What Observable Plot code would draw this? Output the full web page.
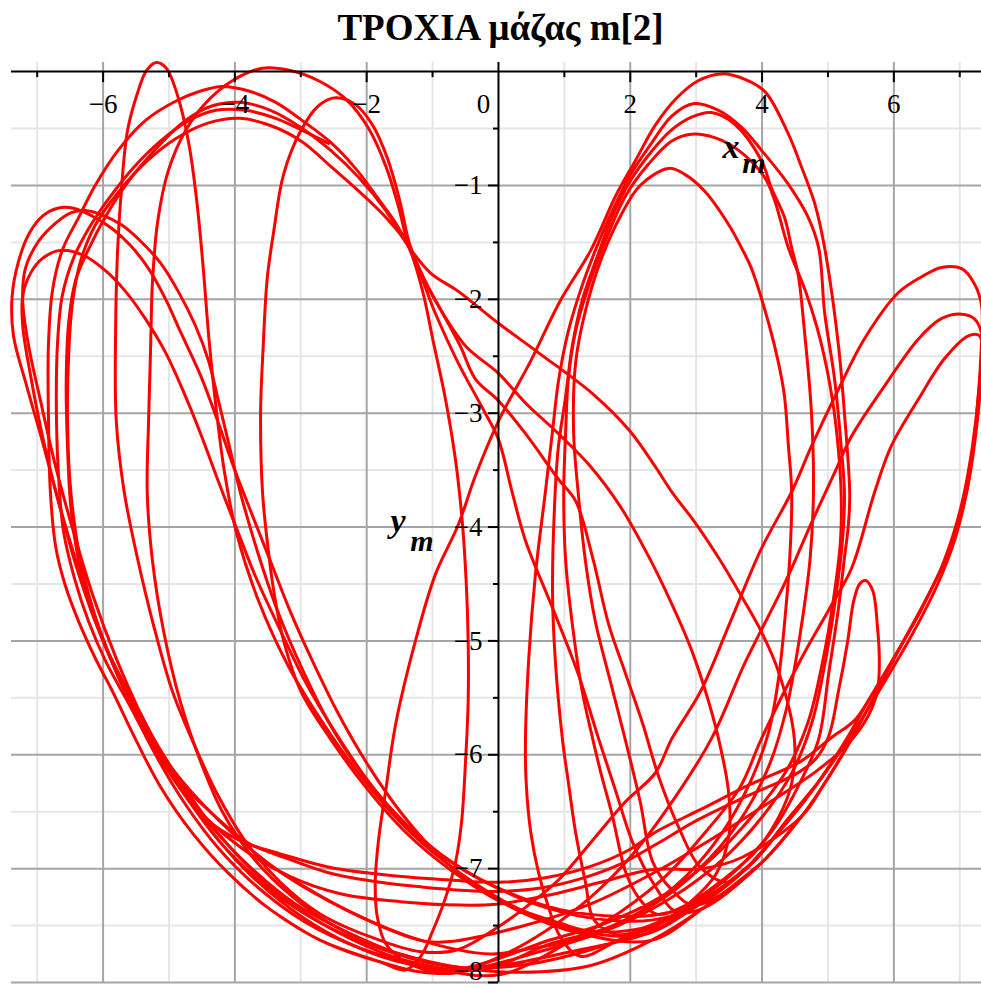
<!DOCTYPE html>
<html>
<head>
<meta charset="utf-8">
<script src="https://cdn.jsdelivr.net/npm/d3@7"></script>
<script src="https://cdn.jsdelivr.net/npm/@observablehq/plot@0.6"></script>
<style>
  html, body { margin: 0; padding: 0; background: #ffffff; }
  #title {
    position: relative; left: 10px; top: 6px; width: 981px; height: 52px; line-height: 56px;
    text-align: center; font: bold 37px "Liberation Serif", "Times New Roman", serif; color: #000;
  }
  #chart svg { display: block; }
</style>
</head>
<body>
<div id="title">ΤΡΟΧΙΑ μάζας m[2]</div>
<div id="chart"></div>
<script>
// Grid and tick positions
const gridXMajor = [-6, -4, -2, 2, 4, 6];
const gridXMinor = [-7, -5, -3, -1, 1, 3, 5, 7];
const gridYMajor = [-1, -2, -3, -4, -5, -6, -7, -8];
const gridYMinor = [-0.5, -1.5, -2.5, -3.5, -4.5, -5.5, -6.5, -7.5];
const xTickLabels = [-6, -4, -2, 2, 4, 6];
const yTickLabels = [-1, -2, -3, -4, -5, -6, -7];

// Trajectory of mass m[2] (x_m, y_m), split into continuous swings
const swingA = [[3.85,-6.95],[3.00,-7.33],[2.20,-7.58],[1.17,-7.54],[0.26,-7.34],[-0.58,-7.04],[-1.34,-6.68],[-2.02,-6.24],[-2.63,-5.75],[-3.19,-5.22],[-3.64,-4.65],[-3.98,-4.04],[-4.16,-3.51],[-4.28,-2.98],[-4.39,-2.37],[-4.49,-1.66],[-4.58,-1.13],[-4.70,-0.63],[-4.87,-0.21],[-5.04,0.03],[-5.19,0.08],[-5.34,0.01],[-5.49,-0.21],[-5.63,-0.52],[-5.72,-1.02],[-5.78,-1.57],[-5.81,-2.28],[-5.80,-3.07],[-5.68,-3.69],[-5.48,-4.27],[-5.24,-4.85],[-4.95,-5.44],[-4.64,-5.88],[-4.29,-6.32],[-3.84,-6.76],[-3.31,-7.12],[-2.70,-7.40],[-1.94,-7.60],[-1.18,-7.73],
  [-0.61,-7.71],[0,-7.51],[0.41,-7.34],[0.91,-7.10],[1.43,-6.75],[1.93,-6.41],[2.38,-6.16],[2.63,-5.86],[3.07,-5.44],[3.52,-4.83],[3.99,-4.19],[4.45,-3.69],[4.75,-3.29],[5.16,-2.79],[5.55,-2.35],[6.07,-1.94],[6.46,-1.79],[6.72,-1.72],[7.03,-1.73],[7.22,-1.86],[7.33,-2.05],[7.32,-2.50],[7.24,-3.10],[7.10,-3.70],[6.85,-4.20],[6.50,-4.62],[6.15,-5.00],[5.78,-5.40],[5.36,-5.86],[4.95,-6.25],[4.60,-6.54],[3.99,-6.95],[3.10,-7.35],[2.32,-7.63],[1.40,-7.85],
  [0.33,-7.91],[-0.58,-7.87],[-1.49,-7.75],[-2.32,-7.55],[-3.08,-7.31],[-3.76,-6.99],[-4.37,-6.62],[-4.90,-6.22],[-5.36,-5.78],[-5.77,-5.31],[-6.12,-4.83],[-6.42,-4.32],[-6.68,-3.77],[-6.92,-3.25],[-7.16,-2.76],[-7.36,-2.32],[-7.38,-1.97],[-7.28,-1.66],[-7.12,-1.42],[-6.92,-1.27],[-6.69,-1.20],[-6.45,-1.20],[-6.16,-1.27],[-5.86,-1.38],[-5.58,-1.53],[-5.31,-1.73],[-5.05,-2.00],[-4.83,-2.28],[-4.52,-2.67],[-4.26,-3.07],[-4.02,-3.47],[-3.76,-3.86],[-3.46,-4.30],[-3.16,-4.74],[-2.82,-5.18],[-2.43,-5.64],[-1.97,-6.10],[-1.49,-6.50],[-0.93,-6.87],[-0.30,-7.17],[0.41,-7.40],[1.24,-7.57],[2.32,-7.63],[3.10,-7.35],[3.99,-6.95]];

const swingB = [[4.25,-6.68],[3.70,-7.03],[3.00,-7.30],[2.45,-7.40],[1.85,-7.42],[0.94,-7.36],[0.11,-7.20],[-0.65,-6.97],[-1.34,-6.66],[-1.94,-6.26],[-2.47,-5.81],[-2.93,-5.36],[-3.34,-4.87],[-3.69,-4.43],[-3.99,-3.99],[-4.25,-3.60],[-4.52,-3.18],[-4.78,-2.81],[-5.05,-2.47],[-5.36,-2.17],[-5.66,-1.93],[-5.96,-1.75],[-6.31,-1.61],[-6.65,-1.57],[-6.92,-1.64],[-7.10,-1.77],[-7.22,-1.97],[-7.22,-2.23],[-7.10,-2.67],[-6.92,-3.20],[-6.68,-3.77],[-6.37,-4.37],[-6.04,-4.93],[-5.66,-5.46],[-5.25,-5.95],[-4.78,-6.41],[-4.25,-6.82],[-3.64,-7.17],[-2.93,-7.47],[-2.09,-7.70],[-1.18,-7.85],
  [-0.73,-7.92],[0.03,-7.77],[0.71,-7.55],[1.40,-7.25],[2.00,-6.90],[2.53,-6.50],[3.23,-5.86],[3.75,-5.18],[4.34,-4.50],[4.76,-3.95],[5.11,-3.51],[5.36,-3.20],[5.86,-2.76],[6.37,-2.35],[6.72,-2.17],[7.03,-2.13],[7.22,-2.17],[7.33,-2.30],[7.29,-2.80],[7.19,-3.30],[7.02,-3.82],[6.76,-4.30],[6.42,-4.72],[6.05,-5.10],[5.66,-5.48],[5.22,-5.92],[4.80,-6.28],[4.40,-6.56],[3.85,-6.95],[3.00,-7.33],[2.20,-7.58],[1.17,-7.72],[0.15,-7.84],
  [-0.88,-7.91],[-1.41,-7.82],[-1.71,-7.66],[-1.84,-7.42],[-1.87,-7.12],[-1.82,-6.75],[-1.71,-6.31],[-1.56,-5.73],[-1.26,-5.00],[-0.96,-4.42],[-0.61,-3.98],[-0.35,-3.55],[0,-3.07],[0.49,-2.54],[0.94,-2.01],[1.40,-1.57],[1.78,-1.09],[2.08,-0.78],[2.38,-0.47],[2.69,-0.24],[3.03,-0.08],[3.38,-0.02],[3.75,-0.07],[4.05,-0.18],[4.40,-0.55],[4.60,-0.84],[4.80,-1.16],[4.95,-1.55],[5.16,-2.41],[5.25,-3.00],[5.33,-3.70],[5.31,-3.98],[5.25,-4.27],[5.16,-4.71],[5.01,-5.29],[4.86,-5.86],[4.58,-6.24],[4.20,-6.63],[3.67,-6.98],[2.99,-7.29],[2.15,-7.55],[1.17,-7.75],[0.18,-7.86],
  [-0.73,-7.86],[-1.64,-7.73],[-2.47,-7.51],[-3.16,-7.23],[-3.73,-6.90],[-4.19,-6.50],[-4.52,-6.06],[-4.83,-5.53],[-5.08,-4.92],[-5.25,-4.30],[-5.33,-3.70],[-5.31,-3.07],[-5.28,-2.45],[-5.25,-1.84],[-5.17,-1.31],[-5.01,-0.87],[-4.75,-0.52],[-4.45,-0.28],[-4.04,-0.08],[-3.58,0.03],[-3.16,0.01],[-2.73,-0.08],[-2.32,-0.24],[-1.97,-0.50],[-1.71,-0.83],[-1.52,-1.18],[-1.34,-1.57],[-0.96,-2.01],[-0.50,-2.41],[0,-2.65],[0.41,-2.91],[0.91,-3.18],[1.40,-3.47],[1.85,-3.82],[2.28,-4.26],[2.61,-4.65],[2.91,-5.05],[3.14,-5.44],[3.34,-5.86],[3.49,-6.32],[3.50,-6.70],[3.30,-7.05],[2.90,-7.30],[2.40,-7.50],[1.85,-7.62],
  [1.24,-7.77],[0.94,-7.60],[0.76,-7.34],[0.61,-7.04],[0.49,-6.68],[0.42,-6.24],[0.41,-5.86],[0.46,-5.15],[0.56,-4.42],[0.71,-3.70],[0.82,-3.16],[0.91,-2.72],[1.06,-2.28],[1.24,-1.93],[1.47,-1.57],[1.73,-1.22],[2.00,-0.91],[2.32,-0.63],[2.63,-0.39],[2.97,-0.28],[3.34,-0.34],[3.69,-0.49],[3.99,-0.69],[4.40,-0.99],[4.70,-1.28],[4.86,-1.55],[4.95,-2.12],[5.10,-2.70],[5.20,-3.29],[5.25,-3.70],[5.22,-4.12],[5.11,-4.65],[4.96,-5.18],[4.76,-5.71],[4.46,-6.15],[4.01,-6.54],[3.40,-6.92],[2.64,-7.25],[1.78,-7.51],[0.86,-7.69],
  [-0.88,-7.92],[-1.79,-7.82],[-2.70,-7.63],[-3.46,-7.36],[-4.10,-7.04],[-4.64,-6.69],[-5.13,-6.28],[-5.51,-5.86],[-5.86,-5.44],[-6.12,-5.15],[-6.37,-4.83],[-6.57,-4.52],[-6.72,-4.17],[-6.80,-3.69],[-6.83,-3.00],[-6.83,-2.41],[-6.77,-1.93],[-6.62,-1.57],[-6.37,-1.28],[-6.12,-1.00],[-5.77,-0.69],[-5.36,-0.43],[-4.90,-0.26],[-4.52,-0.17],[-4.19,-0.13],[-3.79,-0.17],[-3.38,-0.27],[-2.93,-0.45],[-2.55,-0.62],[-2.17,-0.85],[-1.82,-1.12],[-1.56,-1.33],[-1.34,-1.57],[-1.15,-1.93],[-0.99,-2.37],[-0.80,-2.89],[-0.65,-3.42],[-0.55,-3.95],[-0.49,-4.48],[-0.46,-5.00],[-0.46,-5.53],[-0.50,-6.06],[-0.56,-6.59],[-0.65,-6.94],[-0.80,-7.25],[-1.00,-7.55],[-1.18,-7.77],[-1.41,-7.89],[-1.79,-7.82],[-2.70,-7.63],[-3.46,-7.36]];

const swingC = [[4.40,-6.56],[3.85,-6.95],[3.00,-7.33],[2.35,-7.45],[1.62,-7.45],[0.71,-7.34],[-0.12,-7.14],[-0.88,-6.87],[-1.52,-6.54],[-2.09,-6.15],[-2.58,-5.71],[-3.00,-5.22],[-3.35,-4.74],[-3.66,-4.21],[-3.92,-3.69],[-4.10,-3.25],[-4.25,-2.89],[-4.40,-2.54],[-4.60,-2.23],[-4.86,-1.93],[-5.13,-1.68],[-5.43,-1.49],[-5.71,-1.35],[-6.01,-1.26],[-6.27,-1.22],[-6.49,-1.24],[-6.72,-1.33],[-6.98,-1.49],[-7.18,-1.73],[-7.22,-2.01],[-7.13,-2.41],[-6.95,-2.89],[-6.72,-3.47],[-6.45,-4.04],[-6.15,-4.61],[-5.81,-5.14],[-5.43,-5.64],[-5.01,-6.10],[-4.52,-6.54],[-3.96,-6.94],[-3.34,-7.27],[-2.63,-7.55],[-1.79,-7.77],[-0.88,-7.89],[0.03,-7.93],
  [1.09,-7.64],[1.85,-7.38],[2.53,-7.07],[3.14,-6.68],[3.67,-6.28],[3.99,-5.86],[4.60,-5.15],[5.04,-4.70],[5.36,-4.36],[5.71,-3.69],[5.96,-3.29],[6.37,-2.88],[6.77,-2.52],[7.13,-2.32],[7.30,-2.32],[7.33,-2.60],[7.26,-3.10],[7.13,-3.62],[6.93,-4.10],[6.65,-4.52],[6.30,-4.92],[5.92,-5.30],[5.52,-5.68],[5.08,-6.06],[4.65,-6.40],[4.25,-6.68],[3.70,-7.03],[3.00,-7.30],[2.38,-7.48],[1.80,-7.58],[1.45,-7.45],
  [1.32,-7.12],[1.17,-6.68],[1.06,-6.24],[0.97,-5.86],[0.86,-5.15],[0.82,-4.56],[0.86,-3.70],[0.91,-3.29],[1.02,-2.85],[1.12,-2.41],[1.27,-2.01],[1.49,-1.64],[1.73,-1.27],[2.00,-0.96],[2.31,-0.71],[2.61,-0.52],[2.93,-0.40],[3.23,-0.36],[3.58,-0.46],[3.99,-0.78],[4.14,-1.02],[4.34,-1.28],[4.45,-1.55],[4.55,-1.79],[4.64,-2.26],[4.75,-3.00],[4.78,-3.70],[4.73,-4.27],[4.63,-4.74],[4.51,-5.18],[4.36,-5.62],[4.13,-6.06],[3.75,-6.50],[3.22,-6.90],[2.53,-7.25],[1.70,-7.51],[0.79,-7.66],
  [-0.27,-7.89],[-1.18,-7.80],[-2.09,-7.64],[-2.93,-7.40],[-3.64,-7.10],[-4.25,-6.75],[-4.78,-6.34],[-5.25,-5.93],[-5.63,-5.53],[-5.96,-5.18],[-6.22,-4.83],[-6.43,-4.46],[-6.60,-4.04],[-6.68,-3.51],[-6.71,-2.89],[-6.69,-2.37],[-6.62,-1.97],[-6.45,-1.64],[-6.22,-1.38],[-5.92,-1.12],[-5.55,-0.85],[-5.13,-0.61],[-4.70,-0.43],[-4.29,-0.34],[-3.84,-0.34],[-3.38,-0.41],[-2.93,-0.53],[-2.58,-0.63]];

const swingD = [[-0.73,-7.89],[-1.61,-7.77],[-2.47,-7.55],[-3.23,-7.27],[-3.87,-6.94],[-4.42,-6.57],[-4.90,-6.17],[-5.31,-5.78],[-5.66,-5.40],[-5.96,-5.05],[-6.19,-4.70],[-6.37,-4.30],[-6.49,-3.82],[-6.54,-3.29],[-6.56,-2.72],[-6.52,-2.19],[-6.42,-1.84],[-6.22,-1.56],[-5.96,-1.27],[-5.61,-0.96],[-5.20,-0.68],[-4.75,-0.43],[-4.34,-0.30],[-3.92,-0.27],[-3.46,-0.34],[-3.00,-0.49],[-2.55,-0.69],[-2.12,-0.93],[-1.71,-1.22],[-1.37,-1.53],[-1.03,-1.77],[-0.61,-1.93],[0,-2.21],[0.61,-2.47],[1.43,-2.83],[2.00,-3.16],[2.38,-3.47],[2.64,-3.70],[2.97,-3.95],[3.34,-4.27],[3.73,-4.65],[3.99,-4.92],[4.25,-5.27],[4.49,-5.86],[4.45,-6.25],[4.25,-6.55],[3.90,-6.85],[3.40,-7.10],[2.85,-7.32],[2.40,-7.40],[2.12,-7.25],
  [1.93,-7.03],[1.73,-6.54],[1.55,-6.15],[1.43,-5.86],[1.27,-5.44],[1.12,-4.85],[1.02,-4.30],[0.99,-3.70],[1.02,-3.16],[1.06,-2.70],[1.17,-2.28],[1.37,-1.88],[1.62,-1.49],[1.93,-1.09],[2.28,-0.81],[2.63,-0.61],[2.93,-0.55],[3.28,-0.58],[3.64,-0.69],[4.04,-0.93],[4.19,-1.13],[4.40,-1.55],[4.66,-1.93],[4.89,-2.37],[5.07,-2.89],[5.16,-3.33],[5.20,-3.70],[5.19,-4.12],[5.08,-4.65],[4.92,-5.18],[4.70,-5.71],[4.36,-6.15],[3.85,-6.54],[3.22,-6.92],[2.46,-7.25],[1.62,-7.48],[0.71,-7.64],[-0.05,-7.80],[-0.73,-7.89],[-1.61,-7.77]];

const swingE = [[4.60,-6.54],[3.99,-6.95],[3.40,-7.22],[2.95,-7.32],[2.62,-7.18],[2.34,-6.94],[2.15,-6.41],[1.93,-5.88],[1.70,-5.36],[1.47,-4.83],[1.32,-4.30],[1.21,-3.70],[1.14,-3.16],[1.17,-2.56],[1.32,-2.10],[1.55,-1.66],[1.85,-1.27],[2.15,-1.00],[2.58,-0.85],[2.82,-0.90],[3.13,-1.05],[3.49,-1.34],[3.69,-1.55],[3.84,-1.73],[4.10,-2.21],[4.25,-2.56],[4.34,-2.85],[4.40,-3.29],[4.45,-3.70],[4.42,-4.27],[4.34,-4.85],[4.25,-5.33],[4.10,-5.80],[3.82,-6.24],[3.40,-6.68],[2.84,-7.07],[2.15,-7.38],[1.32,-7.60],[0.41,-7.71],
  [-0.12,-7.75],[-1.18,-7.63],[-2.25,-7.38],[-3.31,-7.03],[-4.22,-6.59],[-4.98,-6.10],[-5.58,-5.53],[-6.04,-4.92],[-6.34,-4.30],[-6.49,-3.69],[-6.54,-3.07],[-6.52,-2.45],[-6.46,-2.01],[-6.34,-1.66],[-6.12,-1.35],[-5.77,-1.06],[-5.36,-0.80],[-4.90,-0.59],[-4.40,-0.45],[-3.92,-0.41],[-3.43,-0.48],[-2.97,-0.62],[-2.55,-0.83],[-2.12,-1.05],[-1.71,-1.28],[-1.37,-1.53],[-0.96,-2.12],[-0.61,-2.56],[-0.20,-3.00],[0,-3.23],[0.21,-3.70],[0.41,-4.12],[0.82,-4.71],[1.21,-5.29],[1.52,-5.86],[1.78,-6.32],[2.03,-6.76],[2.34,-7.12],[2.70,-7.38],[3.10,-7.35],[3.99,-6.95],[4.60,-6.54]];

const swingF = [[4.80,-6.28],[4.40,-6.56],[3.85,-6.95],[3.00,-7.33],[2.20,-7.52],[1.40,-7.55],[0.94,-7.48],[0.03,-7.29],[-0.73,-7.01],[-1.41,-6.68],[-2.02,-6.28],[-2.55,-5.86],[-3.00,-5.44],[-3.26,-5.00],[-3.41,-4.56],[-3.51,-4.12],[-3.58,-3.70],[-3.61,-3.00],[-3.57,-2.41],[-3.51,-1.82],[-3.41,-1.40],[-3.26,-0.90],[-3.00,-0.52],[-2.73,-0.30],[-2.47,-0.23],[-2.17,-0.29],[-1.91,-0.47],[-1.68,-0.77],[-1.50,-1.13],[-1.34,-1.53],[-1.11,-1.84],[-0.85,-2.12],[-0.58,-2.41],[-0.35,-2.70],[0,-2.89],[0.41,-3.18],[0.91,-3.58],[1.17,-3.77],[1.43,-4.27],[1.67,-4.85],[1.93,-5.29],[2.19,-5.73],[2.43,-6.19],[2.73,-6.63],[3.05,-6.98],[3.45,-7.12],[3.70,-7.03],[4.25,-6.68],[4.65,-6.40]];

const sweep1 = [[-5.77,-5.31],[-5.36,-5.78],[-5.13,-6.06],[-4.45,-6.46],[-3.81,-6.77],[-3.16,-6.92],[-2.55,-7.04],[-1.79,-7.12],[-1.18,-7.16],[-0.58,-7.19],[0,-7.20],[0.64,-7.17],[1.24,-7.09],[1.85,-6.96],[2.38,-6.79],[3.03,-6.57],[3.67,-6.39],[4.10,-6.28],[4.51,-6.17],[4.81,-6.04],[5.01,-5.84],[5.16,-5.44],[5.30,-5.00],[5.39,-4.65],[5.48,-4.50],[5.57,-4.47],[5.68,-4.56],[5.75,-4.87],[5.78,-5.18],[5.75,-5.44],[5.61,-5.66],[5.31,-5.90],[4.81,-6.15],[4.13,-6.41],[3.29,-6.72],[2.38,-7.03],[1.40,-7.31],[0.33,-7.51],[-0.73,-7.64],[-1.18,-7.63],[-2.25,-7.38],[-3.31,-7.03]];

const sweep2 = [[-5.43,-5.64],[-5.01,-6.10],[-4.67,-6.41],[-3.92,-6.81],[-3.16,-7.07],[-2.40,-7.22],[-1.49,-7.29],[-0.58,-7.32],[0,-7.31],[0.79,-7.23],[1.55,-7.12],[2.32,-7.01],[3.10,-7.00],[3.70,-6.90],[4.60,-6.54],[4.95,-6.25],[5.36,-5.86]];

const sweep3 = [[-4.90,-6.17],[-4.42,-6.57],[-3.90,-6.76],[-3.31,-6.87],[-2.55,-6.99],[-1.64,-7.06],[-0.73,-7.10],[0,-7.12],[0.71,-7.08],[1.40,-6.98],[2.00,-6.83],[2.38,-6.68],[3.07,-6.48],[3.82,-6.26],[4.58,-6.06],[5.05,-5.85],[5.40,-5.70],[5.66,-5.48],[6.05,-5.10],[6.42,-4.72]];

const swings = [swingA, swingB, swingC, swingD, swingE, swingF, sweep1, sweep2, sweep3];
const pathRows = swings.flatMap((s, k) => s.map(([x, y]) => ({x, y, k})));

const minus = v => v < 0 ? "\u2212" + Math.abs(v) : String(v);
const serif = "Liberation Serif, Times New Roman, serif";
const labelStyle = {fontSize: 27, fontFamily: serif, fill: "#000"};

const chart = Plot.plot({
  width: 981,
  height: 936,
  marginTop: 10,
  marginRight: 0,
  marginBottom: 6,
  marginLeft: 11,
  x: {domain: [-7.39, 7.33], axis: null},
  y: {domain: [-8, 0.08], axis: null},
  style: {background: "#ffffff", overflow: "visible"},
  marks: [
    Plot.ruleX(gridXMinor, {x: d => d, stroke: "#e6e6e6", strokeWidth: 2}),
    Plot.ruleY(gridYMinor, {y: d => d, stroke: "#e6e6e6", strokeWidth: 2}),
    Plot.ruleX(gridXMajor, {x: d => d, stroke: "#a5a5a5", strokeWidth: 2}),
    Plot.ruleY(gridYMajor, {y: d => d, stroke: "#a5a5a5", strokeWidth: 2}),
    Plot.line(pathRows, {x: "x", y: "y", z: "k", stroke: "#ff0000", strokeWidth: 3, curve: "catmull-rom", strokeLinejoin: "round", strokeLinecap: "round"}),
    Plot.ruleY([0], {stroke: "#000", strokeWidth: 2}),
    Plot.ruleX([0], {stroke: "#000", strokeWidth: 2}),
    // tick marks below the x axis and left of the y axis
    Plot.ruleX(gridXMajor, {x: d => d, y1: 0, y2: -0.097, stroke: "#000", strokeWidth: 2}),
    Plot.ruleX(gridXMinor, {x: d => d, y1: 0, y2: -0.053, stroke: "#000", strokeWidth: 2}),
    Plot.ruleY(gridYMajor, {y: d => d, x1: -0.152, x2: 0, stroke: "#000", strokeWidth: 2}),
    Plot.ruleY(gridYMinor, {y: d => d, x1: -0.076, x2: 0, stroke: "#000", strokeWidth: 2}),
    // tick labels
    Plot.text(xTickLabels, {x: d => d, y: 0, text: minus, dy: 33, ...labelStyle}),
    Plot.text(["0"], {x: 0, y: 0, text: d => d, dx: -15, dy: 33, ...labelStyle}),
    Plot.text(yTickLabels, {x: 0, y: d => d, text: minus, dx: -16, textAnchor: "end", ...labelStyle}),
    Plot.text([-8], {x: 0, y: d => d, text: minus, dx: -16, dy: -11, textAnchor: "end", ...labelStyle}),
    // axis titles x_m and y_m
    Plot.text(["x"], {x: 3.40, y: -0.66, text: d => d, textAnchor: "start", fontSize: 34, fontWeight: "bold", fontStyle: "italic", fontFamily: serif, fill: "#000"}),
    Plot.text(["m"], {x: 3.70, y: -0.81, text: d => d, textAnchor: "start", fontSize: 30, fontWeight: "bold", fontStyle: "italic", fontFamily: serif, fill: "#000"}),
    Plot.text(["y"], {x: -1.64, y: -3.95, text: d => d, textAnchor: "start", fontSize: 34, fontWeight: "bold", fontStyle: "italic", fontFamily: serif, fill: "#000"}),
    Plot.text(["m"], {x: -1.34, y: -4.13, text: d => d, textAnchor: "start", fontSize: 30, fontWeight: "bold", fontStyle: "italic", fontFamily: serif, fill: "#000"})
  ]
});

document.getElementById("chart").appendChild(chart);
</script>
</body>
</html>
